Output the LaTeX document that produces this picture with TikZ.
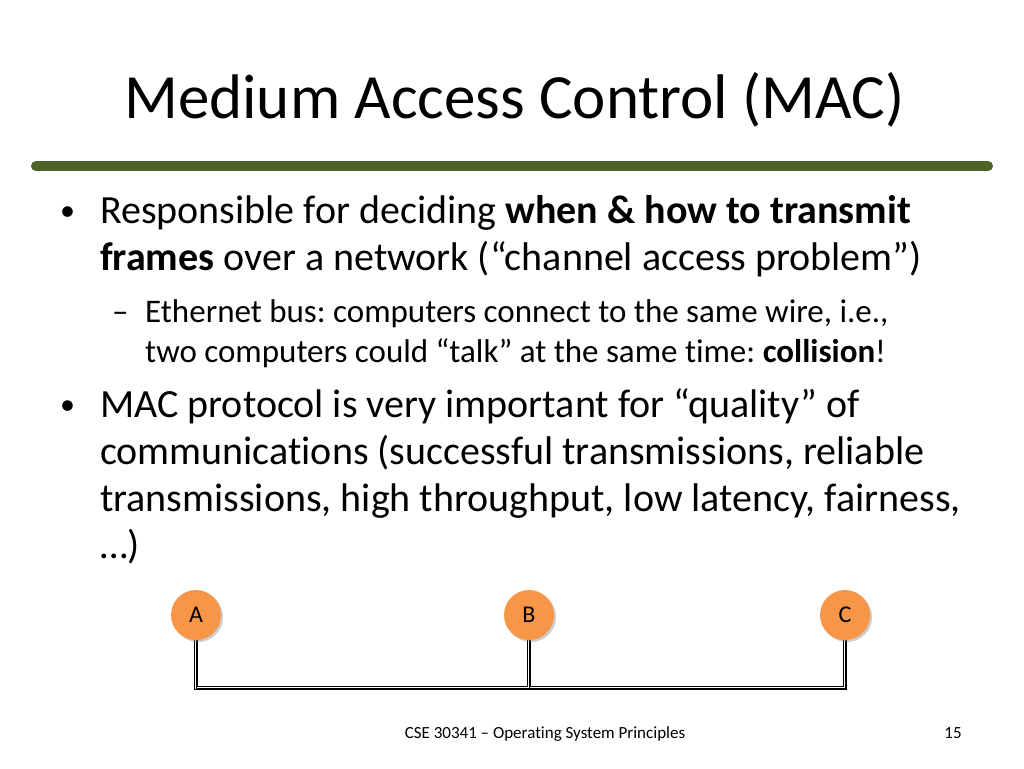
\documentclass[tikz,border=0pt]{standalone}
\usepackage{fontspec}
\setmainfont[Ligatures=NoCommon]{Carlito}
\usetikzlibrary{shadows}
\definecolor{barg}{HTML}{4F6228}
\definecolor{orng}{HTML}{F79646}
\frenchspacing
\begin{document}
\begin{tikzpicture}[x=1pt,y=-1pt,
  body/.style={anchor=base west,inner sep=0pt,font=\fontsize{40}{40}\selectfont},
  sub/.style={anchor=base west,inner sep=0pt,font=\fontsize{33}{33}\selectfont},
  bul/.style={anchor=base west,inner sep=0pt,font=\fontsize{30}{30}\selectfont},
  station/.style={circle,fill=orng,minimum size=50pt,inner sep=0pt,font=\fontsize{24}{24}\selectfont,drop shadow={shadow xshift=2pt,shadow yshift=-2pt,opacity=0.4}},
  wire/.style={draw=black,line width=4.5pt},
  wirein/.style={draw=white,line width=2.5pt},
  wirec/.style={draw=black,line width=0.8pt}]
\useasboundingbox (0,0) rectangle (1024,768);
\node[anchor=base west,inner sep=0pt,font=\fontsize{63}{63}\selectfont] (title) at (124,118) {Medium Access Control (MAC)};
\draw[barg,line width=10pt,line cap=round] (36,166) -- (988,166);
\node[bul] (b1) at (60,220) {•};
\node[body] (l1) at (100,223) {Responsible for deciding \textbf{when \& how to transmit}};
\node[body] (l2) at (100,270) {\textbf{frames} over a network (“channel access problem”)};
\node[sub] (d1) at (112,322) {–};
\node[sub] (s1) at (145,322) {Ethernet bus: computers connect to the same wire, i.e.,};
\node[sub] (s2) at (145,362) {two computers could “talk” at the same time: \textbf{collision}!};
\node[bul] (b2) at (60,414) {•};
\node[body] (m1) at (100,417) {MAC protocol is very important for “quality” of};
\node[body] (m2) at (100,464) {communications (successful transmissions, reliable};
\node[body] (m3) at (100,511) {transmissions, high throughput, low latency, fairness,};
\node[body] (m4) at (100,558) {…)};
\coordinate (pa) at (196,688);
\coordinate (pb) at (529,688);
\coordinate (pc) at (845,688);
\foreach \s in {wire,wirein,wirec}{
  \draw[\s] (196,640) -- (pa) -- (pc) -- (845,640);
  \draw[\s] (529,640) -- (pb);
}
\node[station] (A) at (196,615) {A};
\node[station] (B) at (529,615) {B};
\node[station] (C) at (845,615) {C};
\node[anchor=base,inner sep=0pt,font=\fontsize{17}{17}\selectfont] (foot) at (545,738) {CSE 30341 – Operating System Principles};
\node[anchor=base,inner sep=0pt,font=\fontsize{17}{17}\selectfont] (pg) at (953,738) {15};
\end{tikzpicture}
\end{document}
